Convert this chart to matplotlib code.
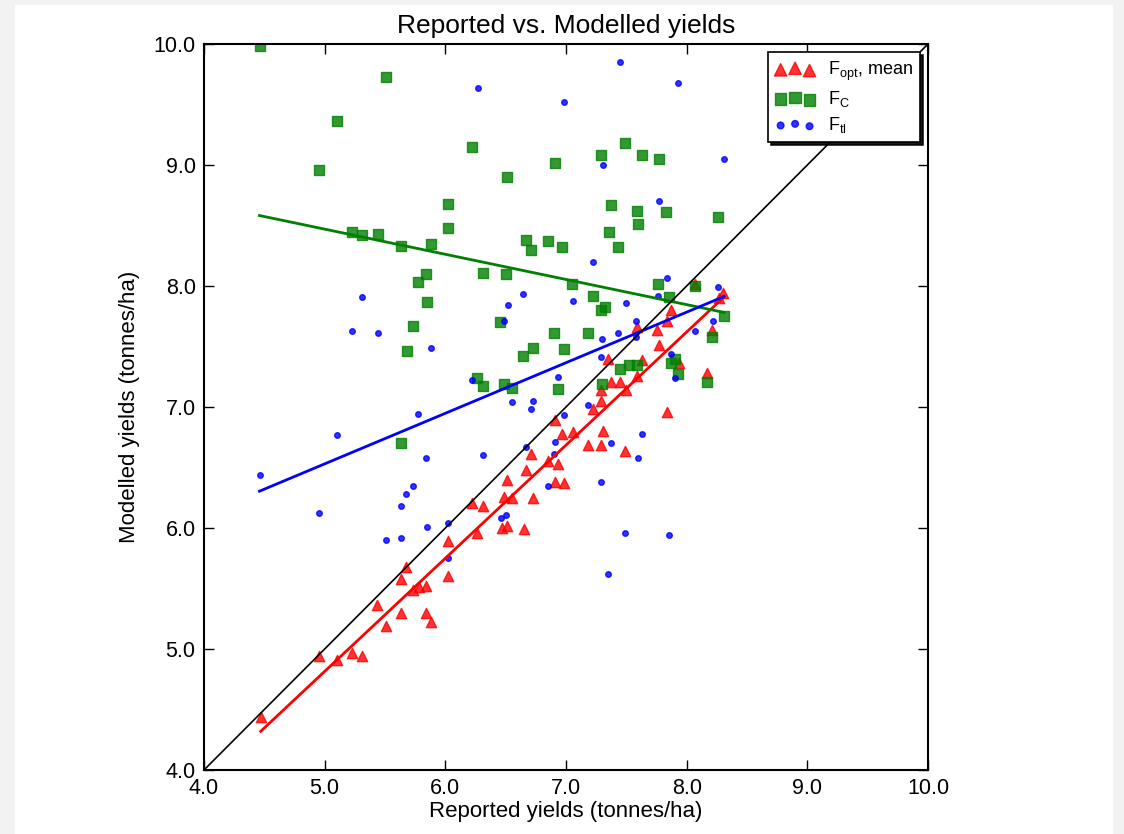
import matplotlib
matplotlib.use("Agg")
import matplotlib.pyplot as plt
from matplotlib.patches import Rectangle
from matplotlib.ticker import FormatStrFormatter
import numpy as np

plt.rcParams.update({
    "font.family": "Liberation Sans",
    "mathtext.default": "regular",
})

# reported (x) vs modelled (y) yields, tonnes/ha
opt_x = [4.47, 4.95, 5.10, 5.23, 5.31, 5.43, 5.51, 5.63, 5.63, 5.67, 5.73, 5.78, 5.84, 5.84, 5.88,
         6.02, 6.02, 6.22, 6.26, 6.31, 6.47, 6.51, 6.49, 6.51, 6.55, 6.65, 6.67, 6.71, 6.73, 6.85,
         6.91, 6.91, 6.93, 6.97, 6.98, 7.06, 7.18, 7.22, 7.29, 7.29, 7.29, 7.31, 7.35, 7.37, 7.45,
         7.49, 7.50, 7.59, 7.59, 7.63, 7.75, 7.77, 7.84, 7.84, 7.87, 7.94, 8.07, 8.17, 8.21, 8.27, 8.30]
opt_y = [4.44, 4.94, 4.91, 4.97, 4.94, 5.36, 5.19, 5.30, 5.58, 5.68, 5.49, 5.51, 5.52, 5.30, 5.22,
         5.60, 5.89, 6.21, 5.96, 6.18, 6.00, 6.02, 6.26, 6.40, 6.25, 5.99, 6.48, 6.61, 6.25, 6.55,
         6.89, 6.38, 6.53, 6.78, 6.37, 6.79, 6.69, 6.98, 7.14, 7.05, 6.69, 6.80, 7.40, 7.21, 7.21,
         6.64, 7.14, 7.66, 7.26, 7.39, 7.64, 7.51, 7.71, 6.96, 7.80, 7.36, 8.02, 7.28, 7.64, 7.90, 7.94]

c_x = [4.46, 4.95, 5.10, 5.23, 5.31, 5.44, 5.51, 5.63, 5.63, 5.68, 5.73, 5.77, 5.84, 5.85, 5.88,
       6.02, 6.02, 6.22, 6.26, 6.31, 6.31, 6.45, 6.49, 6.50, 6.51, 6.55, 6.64, 6.67, 6.71, 6.73,
       6.85, 6.90, 6.91, 6.93, 6.97, 6.98, 7.05, 7.18, 7.22, 7.29, 7.29, 7.30, 7.32, 7.36, 7.37,
       7.43, 7.45, 7.49, 7.52, 7.59, 7.59, 7.60, 7.63, 7.76, 7.77, 7.83, 7.85, 7.87, 7.90, 7.93,
       8.07, 8.17, 8.21, 8.26, 8.31]
c_y = [9.98, 8.96, 9.36, 8.45, 8.42, 8.43, 9.73, 8.33, 6.70, 7.46, 7.67, 8.03, 8.10, 7.87, 8.35,
       8.68, 8.48, 9.15, 7.24, 7.17, 8.11, 7.70, 7.19, 8.10, 8.90, 7.16, 7.42, 8.38, 8.30, 7.49,
       8.37, 7.61, 9.02, 7.15, 8.32, 7.48, 8.02, 7.61, 7.92, 7.80, 9.08, 7.19, 7.83, 8.45, 8.67,
       8.32, 7.31, 9.18, 7.35, 7.35, 8.62, 8.51, 9.08, 8.02, 9.05, 8.61, 7.91, 7.36, 7.40, 7.27,
       8.00, 7.21, 7.58, 8.57, 7.75]

tl_x = [4.46, 4.95, 5.10, 5.23, 5.31, 5.44, 5.51, 5.63, 5.63, 5.67, 5.73, 5.77, 5.84, 5.85, 5.88,
        6.02, 6.02, 6.22, 6.27, 6.31, 6.46, 6.50, 6.49, 6.52, 6.55, 6.64, 6.67, 6.71, 6.73, 6.85,
        6.90, 6.91, 6.93, 6.98, 6.98, 7.06, 7.18, 7.22, 7.29, 7.29, 7.30, 7.31, 7.35, 7.37, 7.43,
        7.45, 7.49, 7.50, 7.58, 7.58, 7.60, 7.63, 7.76, 7.77, 7.84, 7.85, 7.87, 7.90, 7.93, 8.07,
        8.22, 8.26, 8.31]
tl_y = [6.44, 6.12, 6.77, 7.63, 7.91, 7.61, 5.90, 5.92, 6.18, 6.28, 6.35, 6.94, 6.58, 6.01, 7.49,
        5.75, 6.04, 7.22, 9.64, 6.60, 6.08, 6.11, 7.71, 7.84, 7.04, 7.93, 6.67, 6.98, 7.05, 6.35,
        6.61, 6.71, 7.25, 6.93, 9.52, 7.88, 7.02, 8.20, 7.41, 6.38, 7.56, 9.00, 5.62, 6.70, 7.61,
        9.85, 5.96, 7.86, 7.71, 7.58, 6.58, 6.78, 7.92, 8.70, 8.07, 5.94, 7.44, 7.24, 9.68, 7.63,
        7.71, 7.99, 9.05]

# linear fits (intercept, slope)
opt_fit = [0.14, 0.935]
c_fit = [9.51, -0.208]
tl_fit = [4.44, 0.418]

fig = plt.figure(figsize=(11.24, 8.34), dpi=100, facecolor='#f2f2f2')
fig.patches.append(Rectangle((15 / 1124, 0), 1098 / 1124, 829 / 834, transform=fig.transFigure,
                             facecolor='white', edgecolor='none', zorder=-10))
ax = fig.add_axes([204 / 1124, 1 - 770 / 834, 724 / 1124, 726 / 834])

ax.scatter(opt_x, opt_y, marker='^', s=55, c='red', edgecolors='red', alpha=0.8, label='$F_{opt}$, mean')
ax.scatter(c_x, c_y, marker='s', s=48, c='green', edgecolors='green', alpha=0.8, label='$F_C$')
ax.scatter(tl_x, tl_y, marker='o', s=16, c='blue', edgecolors='blue', alpha=0.8, label='$F_{tl}$')

for xs, fit, col in [(opt_x, opt_fit, 'red'), (c_x, c_fit, 'green'), (tl_x, tl_fit, 'blue')]:
    xx = np.array(sorted(xs))
    ax.plot(xx, fit[0] + fit[1] * xx, color=col, linewidth=2)

ax.plot([4, 10], [4, 10], color='black', linewidth=1.2)

ax.set_xlim(4, 10)
ax.set_ylim(4, 10)
ax.set_xticks(np.arange(4, 10.1, 1))
ax.set_yticks(np.arange(4, 10.1, 1))
ax.xaxis.set_major_formatter(FormatStrFormatter('%.1f'))
ax.yaxis.set_major_formatter(FormatStrFormatter('%.1f'))
ax.tick_params(direction='in', top=True, right=True, length=7, width=1, labelsize=15.5, pad=6)
for sp in ax.spines.values():
    sp.set_linewidth(1.5)

ax.set_title('Reported vs. Modelled yields', fontsize=19, pad=8)
ax.set_xlabel('Reported yields (tonnes/ha)', fontsize=16, labelpad=1)
ax.set_ylabel('Modelled yields (tonnes/ha)', fontsize=16, labelpad=10)

leg = ax.legend(loc='upper right', scatterpoints=3, fontsize=13, fancybox=False, markerscale=1.2,
                shadow={'color': 'black', 'alpha': 0.9}, borderaxespad=0.45, framealpha=1,
                handlelength=2.2, handletextpad=0.7, labelspacing=0.35, borderpad=0.4)
leg.get_frame().set_edgecolor('black')
leg.get_frame().set_linewidth(1.2)

fig.savefig('out.png', dpi=100, facecolor=fig.get_facecolor())
